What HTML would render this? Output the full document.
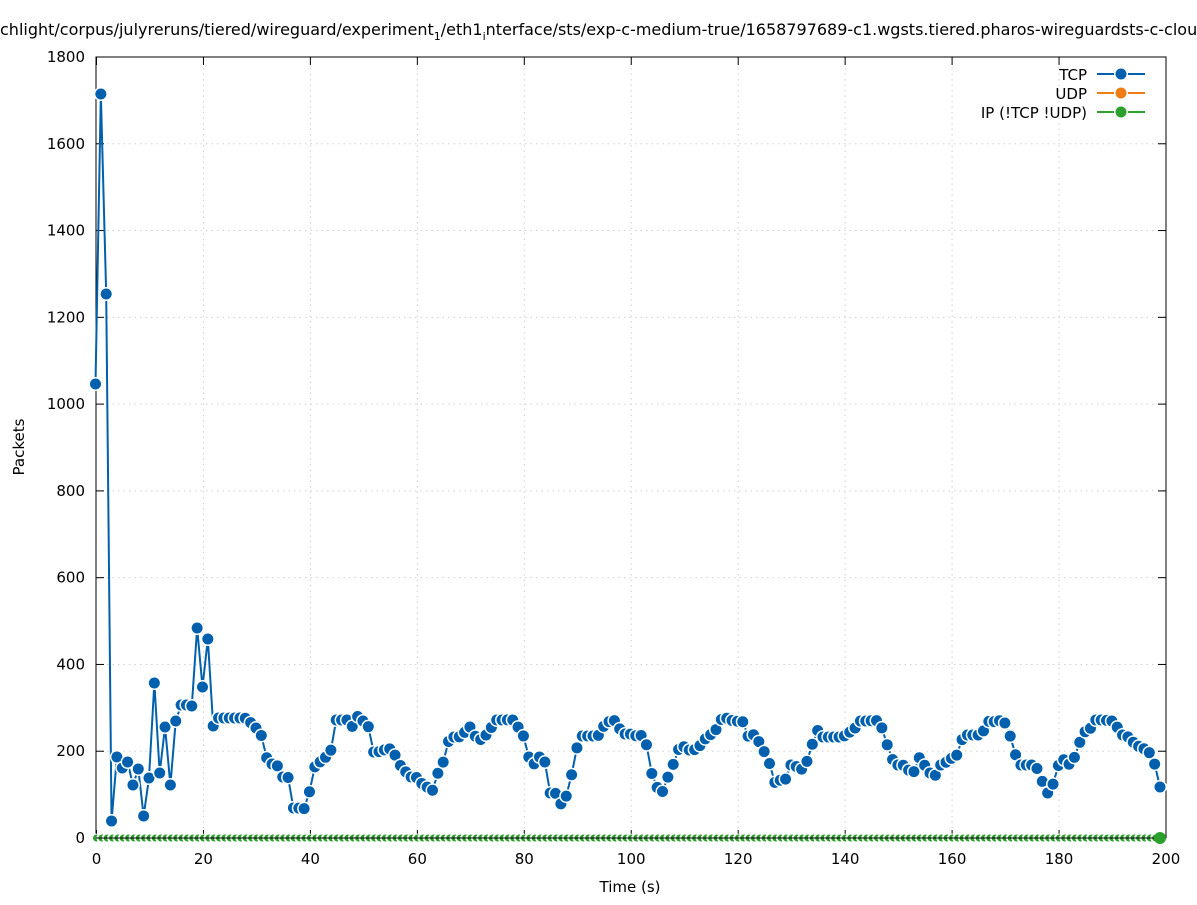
<!DOCTYPE html>
<html><head><meta charset="utf-8"><style>
html,body{margin:0;padding:0;background:#fff;}
svg text{font-family:"DejaVu Sans","Liberation Sans",sans-serif;font-size:15px;fill:#000;}
</style></head><body>
<svg id="s" width="1197" height="900" xmlns="http://www.w3.org/2000/svg">
<rect width="1197" height="900" fill="#fff"/>
<text x="0" y="35" style="font-size:16px">chlight/corpus/julyreruns/tiered/wireguard/experiment<tspan style="font-size:11px" dy="5">1</tspan><tspan dy="-5">/eth1</tspan><tspan style="font-size:11px" dy="5">i</tspan><tspan dy="-5">nterface/sts/exp-c-medium-true/1658797689-c1.wgsts.tiered.pharos-wireguardsts-c-cloud</tspan></text>
<g id="grid"></g>
<rect x="96" y="57" width="1070" height="781" fill="none" stroke="#000" stroke-width="1"/>
<text x="630" y="892" text-anchor="middle">Time (s)</text>
<text x="24" y="447" text-anchor="middle" transform="rotate(-90 24 447)">Packets</text>
<g id="data"></g>
<g>
<text x="1087" y="80" text-anchor="end">TCP</text>
<line x1="1097" y1="74" x2="1145" y2="74" stroke="#0060ad" stroke-width="2"/>
<circle cx="1121" cy="74" r="7" fill="#fff"/><circle cx="1121" cy="74" r="5.5" fill="#0060ad"/>
<text x="1087" y="99" text-anchor="end">UDP</text>
<line x1="1097" y1="93" x2="1145" y2="93" stroke="#f07d14" stroke-width="2"/>
<circle cx="1121" cy="93" r="7" fill="#fff"/><circle cx="1121" cy="93" r="5.5" fill="#f07d14"/>
<text x="1087" y="118" text-anchor="end">IP (!TCP  !UDP)</text>
<line x1="1097" y1="112" x2="1145" y2="112" stroke="#2ca02c" stroke-width="2"/>
<circle cx="1121" cy="112" r="7" fill="#fff"/><circle cx="1121" cy="112" r="5.5" fill="#2ca02c"/>
</g>
</svg>
<script>
var NS="http://www.w3.org/2000/svg";
function el(p,t,a){var e=document.createElementNS(NS,t);for(var k in a)e.setAttribute(k,a[k]);p.appendChild(e);return e;}
var g=document.getElementById('grid');
var x0=96.5,dx=(1166-96.5)/200;
for(var v=0;v<=1800;v+=200){var y=838-v*781/1800;
 if(v>0&&v<1800)el(g,'line',{x1:96,x2:1166,y1:y,y2:y,stroke:'#d0d0d0','stroke-dasharray':'1.5,4','stroke-width':1});
 el(g,'line',{x1:96,x2:104,y1:y,y2:y,stroke:'#000'});el(g,'line',{x1:1158,x2:1166,y1:y,y2:y,stroke:'#000'});
 var t=el(g,'text',{x:85,y:y+5,'text-anchor':'end'});t.textContent=v;}
for(var v=0;v<=200;v+=20){var x=x0+v*dx;
 if(v>0&&v<200)el(g,'line',{x1:x,x2:x,y1:57,y2:838,stroke:'#d0d0d0','stroke-dasharray':'1.5,4','stroke-width':1});
 el(g,'line',{x1:x,x2:x,y1:830,y2:838,stroke:'#000'});el(g,'line',{x1:x,x2:x,y1:57,y2:65,stroke:'#000'});
 var t=el(g,'text',{x:x,y:864,'text-anchor':'middle'});t.textContent=v;}
var head=[384,94,294,821,757,768,762,785,769,816,778,683,773,727,785,721,705,705,706,628,687,639,726];
var kp=[[213,726],[218,718],[245,718],[250,722],[256,728],[261,734],[266,757],[272,764],[277,765],[282,777],[288,777],[293,808],[298,808],[304,809],[309,794],[315,766],[320,762],[325,758],[331,750],[336,720],[341,720],[347,720],[352,727],[357,716],[363,721],[368,725],[373,752],[378,752],[384,750],[389,748],[395,755],[400,765],[405,771],[410,777],[416,777],[421,783],[426,786],[432,792],[437,775],[443,763],[448,742],[453,737],[459,737],[464,733],[470,727],[475,736],[480,740],[486,735],[491,728],[496,720],[502,720],[507,720],[512,719],[518,727],[523,734],[528,756],[534,764],[539,757],[544,757],[550,793],[555,792],[560,805],[566,797],[571,778],[576,750],[582,736],[587,736],[592,736],[598,736],[603,727],[608,722],[614,720],[619,728],[624,734],[630,734],[635,736],[640,734],[646,742],[651,771],[656,786],[662,793],[667,779],[672,768],[678,750],[683,746],[688,750],[694,750],[699,747],[704,740],[710,735],[715,732],[720,720],[726,718],[731,720],[736,722],[742,719],[747,737],[752,733],[758,740],[763,750],[768,757],[774,783],[779,779],[784,784],[790,765],[795,765],[800,771],[806,764],[811,750],[816,728],[822,737],[827,737],[832,737],[838,737],[843,737],[848,733],[854,730],[859,721],[864,721],[870,721],[875,720],[880,722],[886,741],[891,757],[896,765],[902,765],[907,766],[912,779],[918,756],[923,763],[928,770],[934,779],[939,765],[944,765],[950,757],[955,762],[960,742],[966,735],[971,735],[976,735],[982,735],[987,721],[992,722],[998,721],[1003,720],[1008,728],[1014,750],[1019,765],[1024,765],[1030,765],[1035,765],[1040,774],[1046,793],[1051,793],[1056,771],[1062,757],[1067,765],[1072,763],[1078,749],[1083,730],[1088,734],[1094,720],[1099,720],[1104,720],[1110,721],[1115,721],[1120,735],[1126,735],[1131,740],[1136,745],[1142,748],[1147,750],[1153,757],[1160,787]];
function interp(x){for(var i=0;i<kp.length-1;i++){if(x<=kp[i+1][0]){var a=kp[i],b=kp[i+1];return a[1]+(b[1]-a[1])*(x-a[0])/(b[0]-a[0]);}}return kp[kp.length-1][1];}
var pts=[];var sp=(1160-95.5)/199;
for(var i=0;i<200;i++){var x=95.5+i*sp;var y=i<head.length?head[i]:interp(x);pts.push([x,y]);}
var d=document.getElementById('data');
var gp=pts.map(function(p){return p[0]+','+838;}).join(' ');
el(d,'polyline',{points:gp,fill:'none',stroke:'#2ca02c','stroke-width':1.5});
for(var i=0;i<200;i++){var x=pts[i][0];el(d,'circle',{cx:x,cy:838,r:4.5,fill:'#fff'});el(d,'circle',{cx:x+1,cy:838,r:3.5,fill:'#2ca02c'});}
el(d,'line',{x1:96,x2:1166,y1:838,y2:838,stroke:'#000'});
el(d,'circle',{cx:1160,cy:838,r:6,fill:'#2ca02c'});
el(d,'polyline',{points:pts.map(function(p){return p[0]+','+p[1];}).join(' '),fill:'none',stroke:'#0060ad','stroke-width':2});
for(var i=0;i<200;i++){var p=pts[i];el(d,'circle',{cx:p[0],cy:p[1],r:7,fill:'#fff'});el(d,'circle',{cx:p[0],cy:p[1],r:5.5,fill:'#0060ad'});}
</script>
</body></html>
